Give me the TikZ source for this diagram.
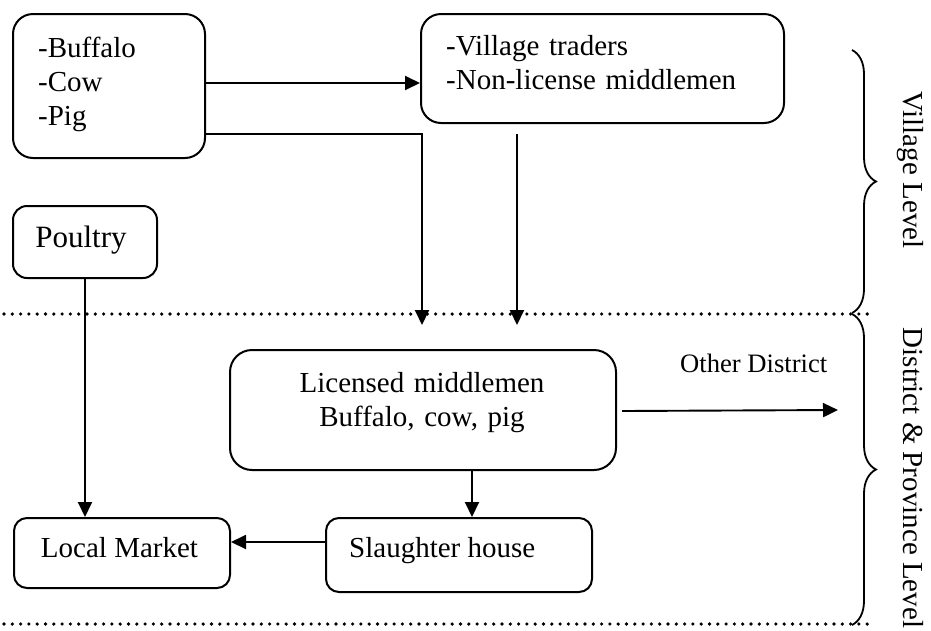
\documentclass[tikz,border=0pt]{standalone}
\usepackage{fontspec}
\setmainfont{Liberation Serif}
\usetikzlibrary{arrows.meta,decorations.pathreplacing}

\begin{document}
\begin{tikzpicture}[x=1pt,y=-1pt,
  box/.style={draw, line width=2pt, inner sep=0pt, anchor=north west},
  arr/.style={line width=1.9pt, -{Triangle[length=15pt,width=14pt]}},
  txt/.style={inner sep=0pt, font=\fontsize{29}{34}\selectfont},
  dotline/.style={line width=3.6pt, line cap=round, dash pattern=on 0pt off 8.3pt},
  lvlbrace/.style={line width=1.8pt, decorate, decoration={brace, amplitude=24pt}}
]
\useasboundingbox (0,0) rectangle (931,630);

% boxes
\node[box, rounded corners=20pt, minimum width=192pt, minimum height=144pt] (animals) at (12,13) {};
\node[box, rounded corners=20pt, minimum width=363pt, minimum height=109pt] (traders) at (420,13) {};
\node[box, rounded corners=14pt, minimum width=144pt, minimum height=72pt] (poultry) at (12,205) {};
\node[box, rounded corners=22pt, minimum width=386pt, minimum height=120pt] (licensed) at (229,349) {};
\node[box, rounded corners=13pt, minimum width=216pt, minimum height=70pt] (market) at (13,517) {};
\node[box, rounded corners=13pt, minimum width=266pt, minimum height=74pt] (slaughter) at (325,517) {};

% box texts
\node[txt, anchor=base west, text width=160pt, align=left] (animals-t) at (38,57) {-Buffalo\\-Cow\\-Pig};
\node[txt, anchor=base west, text width=330pt, align=left] (traders-t) at (446,55) {-Village traders\\-Non-license middlemen};
\node[inner sep=0pt, anchor=base, font=\fontsize{31}{36}\selectfont] (poultry-t) at (81,247) {Poultry};
\node[txt, anchor=base, text width=380pt, align=center] (licensed-t) at (422,392) {Licensed middlemen\\Buffalo, cow, pig};
\node[txt, anchor=base] (market-t) at (119.5,557) {Local Market};
\node[txt, anchor=base west] (slaughter-t) at (349,557) {Slaughter house};
\node[inner sep=0pt, anchor=base west, font=\fontsize{26.6}{31}\selectfont] (other-t) at (680,372) {Other District};

% level labels
\node[txt, anchor=base, rotate=-90] (village-t) at (903,170) {Village Level};
\node[txt, anchor=base, rotate=-90] (district-t) at (903,478) {District \& Province Level};

% level separators
\draw[dotline] (4,314) -- (868,314);
\draw[dotline] (4,624) -- (868,624);

% braces
\draw[lvlbrace] (852,50) -- (852,313);
\draw[lvlbrace] (852,314) -- (852,625);

% flows
\coordinate (traders-out) at (517,134);
\coordinate (traders-in) at (517,325);
\coordinate (other) at (838,410);

\draw[arr] ([yshift=3pt]animals.east) -- ([yshift=3pt]animals.east -| traders.west);
\draw[arr] ([yshift=-48pt]animals.east) -| ([xshift=-1pt,yshift=24pt]licensed.north);
\draw[arr] (traders-out) -- (traders-in);
\draw[arr] (poultry.south) -- (poultry.south |- market.north);
\draw[arr] ([xshift=5pt,yshift=-1pt]licensed.east) -- (other);
\draw[arr] ([xshift=49pt]licensed.south) -- ([xshift=49pt]licensed.south |- slaughter.north);
\draw[arr] ([yshift=13pt]slaughter.west) -- ([yshift=13pt]slaughter.west -| market.east);
\end{tikzpicture}
\end{document}
